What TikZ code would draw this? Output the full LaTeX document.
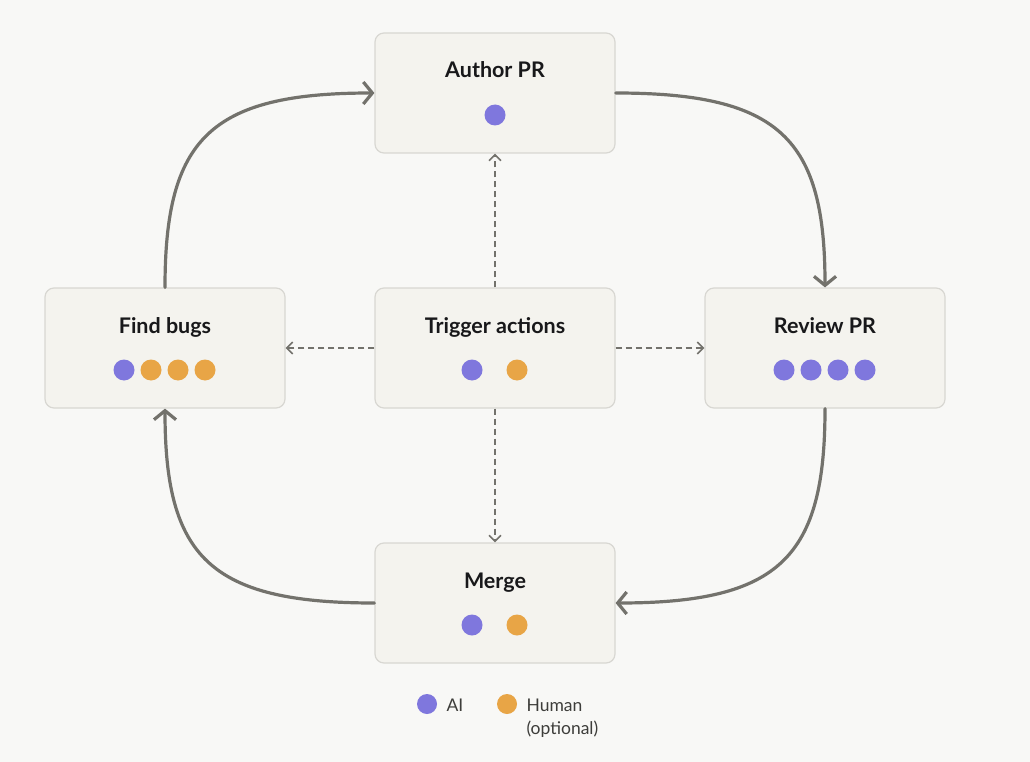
\documentclass[tikz,border=0pt]{standalone}
\usepackage{fontspec}
\setmainfont{Lato}
\usetikzlibrary{arrows.meta,positioning,calc}
\definecolor{bgpage}{HTML}{F8F8F6}
\definecolor{boxfill}{HTML}{F4F3EE}
\definecolor{boxline}{HTML}{D8D7D2}
\definecolor{flowgray}{HTML}{73726C}
\definecolor{aidot}{HTML}{7F77DD}
\definecolor{humandot}{HTML}{E8A546}
\definecolor{inktext}{HTML}{18181A}
\definecolor{legendtext}{HTML}{3D3D3A}

\begin{document}
\begin{tikzpicture}[
        x=1pt, y=-1pt,
        stage/.style={draw=boxline, fill=boxfill, line width=1.2pt, rounded corners=9pt,
                minimum width=240pt, minimum height=120pt, inner sep=0pt},
        ttl/.style={anchor=base, font=\fontsize{21.5}{25}\selectfont\bfseries, text=inktext},
        flow/.style={draw=flowgray, line width=3.2pt, line cap=round,
                -{Straight Barb[length=9pt,width=22pt,line width=3.2pt]}},
        hint/.style={draw=flowgray, line width=1.6pt, dash pattern=on 6pt off 4pt,
                -{Straight Barb[length=6pt,width=12pt,line width=1.6pt]}},
        lgd/.style={anchor=base west, font=\fontsize{17.5}{22}\selectfont, text=legendtext}
    ]
    \fill[bgpage] (0,0) rectangle (1030,762);
    \useasboundingbox (0,0) rectangle (1030,762);

    % ---------------- stages ----------------
    \node[stage] (author) at (495,93) {};
    \node[stage] (findbugs) at (165,348) {};
    \node[stage] (trigger) at (495,348) {};
    \node[stage] (review) at (825,348) {};
    \node[stage] (merge) at (495,603) {};

    \node[ttl] (author-t) at (495,78) {Author PR};
    \node[ttl] (findbugs-t) at (165,333) {Find bugs};
    \node[ttl] (trigger-t) at (495,333) {Trigger actions};
    \node[ttl] (review-t) at (825,333) {Review PR};
    \node[ttl] (merge-t) at (495,588) {Merge};

    % who does it: AI / human dots
    \fill[aidot] (495,115) circle (10.5pt);
    \foreach \x in {784,811,838,865}
    \fill[aidot] (\x,370) circle (10.5pt);
    \fill[aidot] (124,370) circle (10.5pt);
    \foreach \x in {151,178,205}
    \fill[humandot] (\x,370) circle (10.5pt);
    \foreach \y in {370,625} {
        \fill[aidot] (472,\y) circle (10.5pt);
        \fill[humandot] (517,\y) circle (10.5pt);
    }

    % ---------------- main loop ----------------
    \draw[flow] (findbugs.north) .. controls +(0,-148) and +(-165,0) .. (author.west);
    \draw[flow] (author.east) .. controls +(165,0) and +(0,-148) .. (review.north);
    \draw[flow] (review.south) .. controls +(0,148) and +(165,0) .. (merge.east);
    \draw[flow] (merge.west) .. controls +(-165,0) and +(0,148) .. (findbugs.south);

    % triggers
    \draw[hint] (trigger.north) -- (author.south);
    \draw[hint] (trigger.west) -- (findbugs.east);
    \draw[hint] (trigger.east) -- (review.west);
    \draw[hint] (trigger.south) -- (merge.north);

    % ---------------- legend ----------------
    \fill[aidot] (427,704) circle (10pt);
    \node[lgd] (ai-l) at (443,711) {AI};
    \fill[humandot] (507,704) circle (10pt);
    \node[lgd] (human-l) at (523,711) {Human};
    \node[lgd] (optional-l) at (523,734) {(optional)};
\end{tikzpicture}
\end{document}
